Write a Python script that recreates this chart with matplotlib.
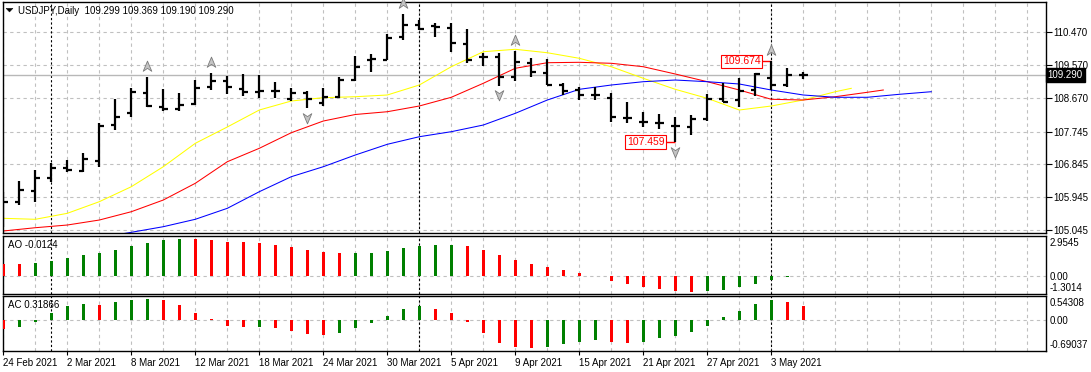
import pandas as pd
import matplotlib
matplotlib.use('Agg')
import matplotlib.pyplot as plt
from matplotlib.path import Path
from matplotlib.patches import Polygon
from matplotlib.transforms import blended_transform_factory

plt.rcParams['font.family'] = ['Liberation Sans', 'DejaVu Sans']

# daily bars, 24 Feb 2021 .. 5 May 2021
dates = pd.bdate_range('2021-02-24', '2021-05-05')

opens = [105.600, 105.822, 106.124, 106.480, 106.738, 106.672, 106.947, 107.926, 108.247, 108.813,
         108.412, 108.366, 108.494, 108.961, 109.134, 108.906, 108.840, 108.868, 108.632, 108.796,
         108.538, 108.703, 109.161, 109.710, 109.710, 110.350, 110.671, 110.643, 110.580, 110.149,
         109.784, 109.784, 109.235, 109.620, 109.362, 109.024, 108.887, 108.750, 108.659, 108.110,
         108.017, 107.973, 107.907, 107.880, 108.091, 108.640, 108.613, 108.887, 109.224, 109.024,
         109.299]
highs = [106.096, 106.390, 106.692, 106.875, 106.966, 107.150, 107.973, 108.640, 108.933, 109.235,
         108.906, 108.796, 109.161, 109.362, 109.271, 109.326, 109.299, 109.115, 108.933, 108.868,
         108.933, 109.235, 109.828, 109.867, 110.415, 110.972, 110.808, 110.734, 110.734, 110.553,
         109.910, 109.894, 109.965, 109.757, 109.729, 109.071, 108.961, 108.961, 108.813, 108.566,
         108.291, 108.228, 108.138, 108.201, 108.769, 109.071, 109.208, 109.362, 109.674, 109.483,
         109.369]
lows = [105.136, 105.731, 105.822, 106.354, 106.645, 106.645, 106.782, 107.789, 108.154, 108.412,
        108.319, 108.319, 108.475, 108.887, 108.769, 108.731, 108.657, 108.657, 108.585, 108.385,
        108.448, 108.676, 109.134, 109.373, 109.710, 110.259, 110.533, 110.350, 109.938, 109.636,
        109.554, 108.997, 109.142, 109.235, 109.024, 108.750, 108.613, 108.613, 108.001, 107.973,
        107.863, 107.808, 107.459, 107.652, 108.044, 108.549, 108.412, 108.731, 108.887, 108.961,
        109.190]
closes = [105.822, 106.143, 106.480, 106.738, 106.692, 106.985, 107.899, 108.154, 108.840, 108.448,
          108.366, 108.475, 108.950, 109.134, 108.978, 108.840, 108.859, 108.868, 108.813, 108.632,
          108.687, 109.161, 109.526, 109.738, 110.306, 110.671, 110.553, 110.624, 110.168, 109.710,
          109.784, 109.252, 109.663, 109.389, 109.024, 108.868, 108.750, 108.750, 108.138, 108.110,
          108.017, 107.973, 107.907, 108.091, 108.640, 108.566, 108.868, 109.326, 109.024, 109.299,
          109.290]

# alligator lines (read at bar positions, shifted forward)
lips_x = [0, 2, 4, 6, 8, 10, 12, 14, 16, 18, 20, 22, 24, 25, 26, 28, 30, 32, 34, 36, 38, 40,
          42, 44, 46, 48, 50, 52, 53]
lips_y = [105.366, 105.339, 105.503, 105.822, 106.233, 106.782, 107.424, 107.872, 108.338,
          108.585, 108.676, 108.703, 108.750, 108.887, 109.024, 109.526, 109.938, 110.004,
          109.910, 109.757, 109.526, 109.208, 108.906, 108.659, 108.338, 108.448, 108.613,
          108.840, 108.933]
teeth_x = [0, 2, 4, 6, 8, 10, 12, 14, 16, 18, 20, 22, 24, 26, 28, 30, 32, 34, 36, 38, 40, 42,
           44, 46, 48, 50, 52, 54, 55]
teeth_y = [105.018, 105.108, 105.182, 105.319, 105.547, 105.868, 106.327, 106.919, 107.287,
           107.715, 108.036, 108.215, 108.291, 108.448, 108.687, 109.071, 109.483, 109.636,
           109.647, 109.620, 109.526, 109.326, 109.115, 108.887, 108.632, 108.613, 108.703,
           108.824, 108.887]
jaw_x = [7, 8, 10, 12, 14, 16, 18, 20, 22, 24, 26, 28, 30, 32, 34, 36, 38, 40, 42, 44, 46, 48,
         50, 52, 54, 56, 58]
jaw_y = [104.908, 104.982, 105.136, 105.339, 105.640, 106.096, 106.508, 106.782, 107.103,
         107.397, 107.605, 107.743, 107.926, 108.247, 108.612, 108.906, 109.024, 109.115,
         109.161, 109.115, 109.052, 108.887, 108.750, 108.687, 108.687, 108.769, 108.840]

fractal_up = [9, 13, 25, 32, 48]
fractal_down = [19, 31, 42]

ao = [0.90, 0.88, 1.00, 1.15, 1.37, 1.56, 1.73, 1.93, 2.25, 2.47, 2.66, 2.74, 2.73, 2.66, 2.52,
      2.50, 2.44, 2.30, 2.15, 1.93, 1.78, 1.71, 1.72, 1.73, 1.86, 2.08, 2.22, 2.30, 2.31, 2.22,
      1.93, 1.56, 1.20, 0.90, 0.68, 0.46, 0.24, 0.03, -0.34, -0.54, -0.76, -0.93, -1.08, -1.13,
      -1.08, -1.00, -0.76, -0.54, -0.27, -0.06, -0.0124]
ao_up = [0, 0, 1, 1, 1, 1, 1, 1, 1, 1, 1, 1, 0, 0, 0, 0, 0, 0, 0, 0, 0, 0, 1, 1, 1, 1, 1, 1, 1,
         0, 0, 0, 0, 0, 0, 0, 0, 0, 0, 0, 0, 0, 0, 0, 1, 1, 1, 1, 1, 1, 1]
ac = [-0.20, -0.15, -0.04, 0.16, 0.32, 0.36, 0.34, 0.41, 0.45, 0.48, 0.45, 0.34, 0.16, 0.02,
      -0.14, -0.16, -0.15, -0.18, -0.25, -0.32, -0.34, -0.29, -0.18, -0.07, 0.09, 0.25, 0.32,
      0.25, 0.16, -0.05, -0.29, -0.52, -0.61, -0.63, -0.59, -0.54, -0.48, -0.45, -0.48, -0.50,
      -0.48, -0.41, -0.36, -0.27, -0.14, 0.07, 0.20, 0.36, 0.45, 0.41, 0.31866]
ac_up = [0, 1, 1, 1, 1, 1, 0, 1, 1, 1, 0, 0, 0, 0, 0, 0, 1, 0, 0, 0, 0, 1, 1, 1, 1, 1, 1, 0, 0,
         0, 0, 0, 0, 0, 1, 1, 1, 1, 0, 0, 1, 1, 1, 1, 1, 1, 1, 1, 1, 0, 0]

price_levels = [110.470, 109.570, 108.670, 107.745, 106.845, 105.945, 105.045]
separators = [3, 26, 48]

W, H = 1091, 372
GRID = '#C0C0C0'
GREEN, RED = '#008000', '#FF0000'

fig = plt.figure(figsize=(W / 100, H / 100), dpi=100)


def px_axes(top, bottom, left=2.5, right=1046):
    a = fig.add_axes([left / W, 1 - bottom / H, (right - left) / W, (bottom - top) / H])
    a.set_xlim(-0.05, 65.17)
    for s in a.spines.values():
        s.set_linewidth(1)
        s.set_color('black')
    a.set_xticks([])
    a.set_yticks([])
    for k in range(0, 66, 2):
        a.axvline(k, color=GRID, lw=0.8, ls=(0, (3, 3)), zorder=0)
    for k in separators:
        a.axvline(k, color='black', lw=0.8, ls=(0, (2, 2)), zorder=1)
    return a


ax = px_axes(2, 233)
ax_ao = px_axes(236, 294)
ax_ac = px_axes(296, 351)

# ---- main price pane
ax.set_ylim(104.963, 111.302)
for p in price_levels:
    ax.axhline(p, color=GRID, lw=0.8, ls=(0, (3, 3)), zorder=0)
ax.axhline(closes[-1], color='#B8B8B8', lw=1, zorder=1)

xs = list(range(len(dates)))
ax.vlines(xs, lows, highs, color='black', lw=1.6, zorder=4)
ax.hlines(opens, [x - 0.28 for x in xs], xs, color='black', lw=1.6, zorder=4)
ax.hlines(closes, xs, [x + 0.28 for x in xs], color='black', lw=1.6, zorder=4)

ax.plot(lips_x, lips_y, color='#FFFF00', lw=0.75, zorder=2)
ax.plot(teeth_x, teeth_y, color='#FF0000', lw=0.75, zorder=2)
ax.plot(jaw_x, jaw_y, color='#0000FF', lw=0.75, zorder=2)

up_arrow = Path([(0, 1), (0.8, -0.9), (0, -0.35), (-0.8, -0.9), (0, 1)],
                [Path.MOVETO, Path.LINETO, Path.LINETO, Path.LINETO, Path.CLOSEPOLY])
down_arrow = Path([(0, -1), (0.8, 0.9), (0, 0.35), (-0.8, 0.9), (0, -1)],
                  [Path.MOVETO, Path.LINETO, Path.LINETO, Path.LINETO, Path.CLOSEPOLY])
ax.scatter(fractal_up, [highs[i] + 0.30 for i in fractal_up], marker=up_arrow, s=60,
           facecolor='#C4C4C4', edgecolor='#7A7A7A', lw=0.6, zorder=5, clip_on=False)
ax.scatter(fractal_down, [lows[i] - 0.26 for i in fractal_down], marker=down_arrow, s=60,
           facecolor='#C4C4C4', edgecolor='#7A7A7A', lw=0.6, zorder=5)

for i, val in [(48, highs[48]), (42, lows[42])]:
    ax.hlines(val, i - 0.68, i, color=RED, lw=1, zorder=3)
    ax.text(i - 0.68, val, f'{val:.3f}', ha='right', va='center', color=RED, fontsize=7.5,
            zorder=6, bbox=dict(boxstyle='square,pad=0.15', fc='white', ec=RED, lw=0.8))

ax.yaxis.tick_right()
ax.set_yticks(price_levels)
ax.set_yticklabels([f'{p:.3f}' for p in price_levels])
ax.tick_params(axis='y', labelsize=7, length=4, pad=1, width=0.8)

trans = blended_transform_factory(ax.transAxes, ax.transData)
ax.text(1.0015, closes[-1], f'{closes[-1]:.3f}', transform=trans, ha='left', va='center',
        color='white', fontsize=7, clip_on=False,
        bbox=dict(boxstyle='square,pad=0.2', fc='black', ec='black'))

fig.text(18 / W, 1 - 10.5 / H,
         f'USDJPY,Daily  {opens[-1]:.3f} {highs[-1]:.3f} {lows[-1]:.3f} {closes[-1]:.3f}',
         fontsize=7, va='center', ha='left')
fig.patches.append(Polygon([(6 / W, 1 - 8.3 / H), (13 / W, 1 - 8.3 / H), (9.5 / W, 1 - 12 / H)],
                           closed=True, fc='black', ec='black', lw=0.3,
                           transform=fig.transFigure, figure=fig))

# ---- AO pane
ax_ao.set_ylim(-1.3014, 2.9545)
ax_ao.axhline(0, color=GRID, lw=0.8, ls=(0, (3, 3)), zorder=0)
ax_ao.bar(xs, ao, width=0.19, color=[GREEN if u else RED for u in ao_up], zorder=3)
fig.text(8 / W, 1 - 244.5 / H, f'AO {ao[-1]:.4f}', fontsize=7, va='center')
for lab, ypx in [('2.9545', 243.5), ('0.00', 276.5), ('-1.3014', 288)]:
    fig.text(1050 / W, 1 - ypx / H, lab, fontsize=7, va='center')

# ---- AC pane
ax_ac.set_ylim(-0.69037, 0.54308)
ax_ac.axhline(0, color=GRID, lw=0.8, ls=(0, (3, 3)), zorder=0)
ax_ac.bar(xs, ac, width=0.19, color=[GREEN if u else RED for u in ac_up], zorder=3)
fig.text(8 / W, 1 - 305.5 / H, f'AC {ac[-1]:.5f}', fontsize=7, va='center')
for lab, ypx in [('0.54308', 303.5), ('0.00', 321), ('-0.69037', 345)]:
    fig.text(1050 / W, 1 - ypx / H, lab, fontsize=7, va='center')

tick_pos = list(range(0, len(dates), 4))
ax_ac.set_xticks(tick_pos)
ax_ac.set_xticklabels([f'{dates[i].day} {dates[i]:%b %Y}' for i in tick_pos], ha='left')
ax_ac.tick_params(axis='x', labelsize=7, length=3, pad=2, width=0.8)

fig.savefig('out.png', dpi=100)
